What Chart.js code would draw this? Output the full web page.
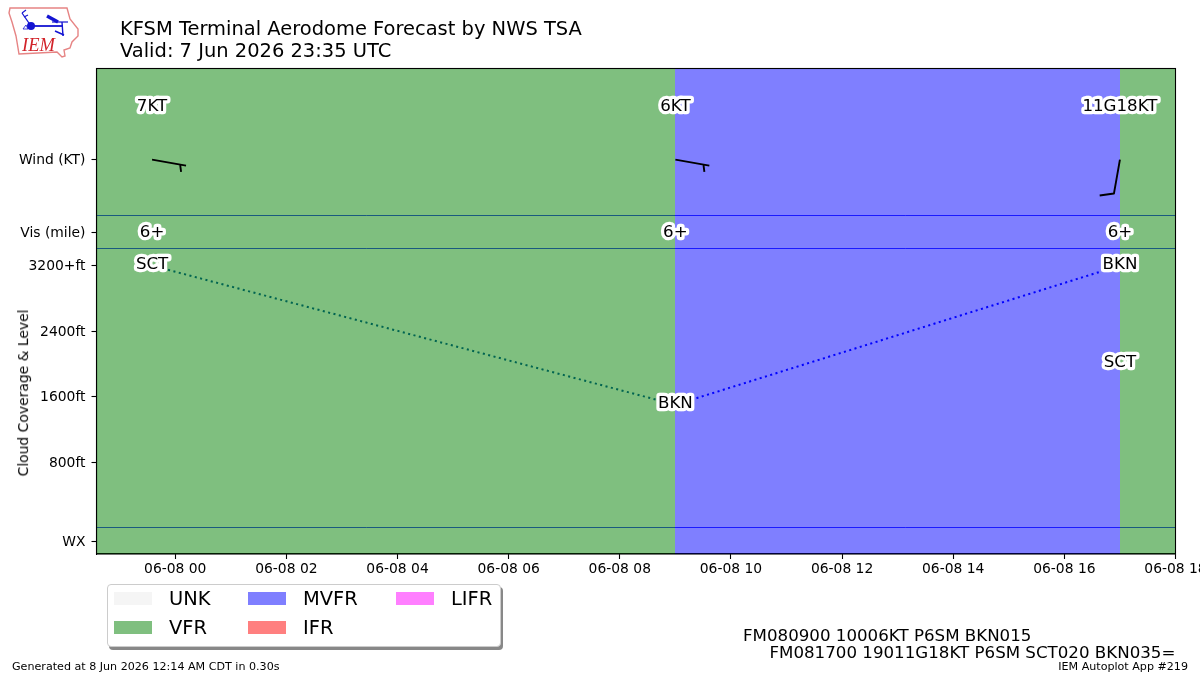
<!DOCTYPE html>
<html>
<head>
<meta charset="utf-8">
<title>KFSM TAF</title>
<script src="https://cdn.jsdelivr.net/npm/chart.js@4"></script>
<style>
    html, body { margin: 0; padding: 0; background: #fff; }
    #page { position: relative; width: 1200px; height: 675px; overflow: hidden; font-family: "DejaVu Sans", sans-serif; color: #000; }
    #myChart { position: absolute; left: 0; top: 0; }
    .txt { position: absolute; white-space: pre; line-height: 1; }
    #titulo { left: 120px; top: 18px; font-size: 19.47px; line-height: 21.5px; }
    #nivel { left: 24px; top: 393px; font-size: 13.89px; transform: translate(-50%, -50%) rotate(-90deg); }
    #taf { left: 743px; top: 627px; font-size: 16.67px; line-height: 17px; }
    #generado { left: 12px; top: 661px; font-size: 11.11px; }
    #autoplot { right: 12px; top: 661px; font-size: 11.11px; }
    #logo { position: absolute; left: 0; top: 0; }
    #leyenda { position: absolute; left: 107px; top: 584px; width: 392px; height: 61px; box-sizing: content-box; border: 1px solid #ccc; border-radius: 4px; background: #fff; box-shadow: 2px 3px 0 #888; }
    .fila { position: absolute; height: 23px; line-height: 23px; font-size: 19.44px; }
    .fila i { position: absolute; left: 0; top: 5px; width: 38px; height: 13px; }
    .fila span { position: absolute; left: 55px; }
</style>
</head>
<body>
<div id="page">
    <canvas id="myChart" width="1200" height="675"></canvas>

    <svg id="logo" width="90" height="65" viewBox="0 0 90 65">
        <path d="M10 8 L67 8 L70 19 L78 29 L78 36 L72 42 L70 48 L64 50 L65 56 L62 57 L57 52 L19 54 L16 36 L12 22 L9 13 Z" fill="#fff" stroke="#e68484" stroke-width="1.4"/>
        <g stroke="#1414d2" fill="none">
            <line x1="31" y1="26" x2="63" y2="26" stroke-width="1.8"/>
            <circle cx="31" cy="26" r="4" fill="#1414d2" stroke="none"/>
            <line x1="31" y1="26" x2="22" y2="13" stroke-width="1.3"/>
            <line x1="22" y1="13" x2="26" y2="10" stroke-width="1.1"/>
            <line x1="24" y1="17" x2="28" y2="15" stroke-width="1.1"/>
            <line x1="47" y1="16" x2="58" y2="22" stroke-width="3.4"/>
            <line x1="52" y1="22" x2="68" y2="22" stroke-width="1.2"/>
            <line x1="62" y1="22" x2="63" y2="36" stroke-width="1.4"/>
            <line x1="55" y1="31" x2="64" y2="35" stroke-width="1.4"/>
            <path d="M23 29 L26 25 L28 29 Z" stroke-width="0.8"/>
        </g>
        <text x="22" y="51" font-family="Liberation Serif" font-style="italic" font-size="18.5" fill="#d2232a">IEM</text>
    </svg>

    <div id="titulo" class="txt"></div>
    <div id="nivel" class="txt">Cloud Coverage &amp; Level</div>
    <div id="leyenda"></div>
    <div id="taf" class="txt"></div>
    <div id="generado" class="txt">Generated at 8 Jun 2026 12:14 AM CDT in 0.30s</div>
    <div id="autoplot" class="txt">IEM Autoplot App #219</div>
</div>

<script>
// hours relative to 06-08 00Z
const horaInicio = -1.417;
const horaFin = 18;
const horasTicks = [0, 2, 4, 6, 8, 10, 12, 14, 16, 18];

// forecast groups
const horasTaf = [-0.417, 9, 17];
const vientoDir = [100, 100, 190];
const vientoVel = [7, 6, 11];
const vientoRacha = [null, null, 18];
const visibilidad = ['6+', '6+', '6+'];

// cloud layers (hour, level in ft)
const nubesHora = [-0.417, 9, 17, 17];
const nubesNivel = [3200, 1500, 3200, 2000];
const nubesTexto = ['SCT', 'BKN', 'BKN', 'SCT'];
const lineaHora = [-0.417, 9, 17];
const lineaNivel = [3200, 1500, 3200];
const lineaColores = ['#0048a0', '#0000ff'];

// flight category shading
const tramosInicio = [-1.417, 9, 17];
const tramosFin = [9, 17, 18];
const tramosCategoria = ['VFR', 'MVFR', 'VFR'];

const categorias = ['UNK', 'VFR', 'MVFR', 'IFR', 'LIFR'];
const coloresCategoria = ['#f5f5f5', 'rgba(0,128,0,0.5)', 'rgba(0,0,255,0.5)', 'rgba(255,0,0,0.5)', 'rgba(255,0,255,0.5)'];

// y axis is in feet, the wind and vis rows sit above the cloud range
const yMin = -322;
const yMax = 5606;
const yTicks = [-164, 800, 1600, 2400, 3206, 3603, 4494];
const yTickTextos = ['WX', '800ft', '1600ft', '2400ft', '3200+ft', 'Vis (mile)', 'Wind (KT)'];
const separadores = [0, 3404, 3806];
const filaVientoTexto = 5136;
const filaBarba = 4494;
const filaVis = 3606;

const tituloLineas = ['KFSM Terminal Aerodome Forecast by NWS TSA', 'Valid: 7 Jun 2026 23:35 UTC'];
const tafLineas = ['FM080900 10006KT P6SM BKN015', '     FM081700 19011G18KT P6SM SCT020 BKN035='];

document.getElementById('titulo').textContent = tituloLineas.join('\n');
document.getElementById('taf').textContent = tafLineas.join('\n');

// legend, filled column by column like the plot library does
let leyenda = document.getElementById('leyenda');
const columnasX = [6, 140, 288];
categorias.forEach((nombre, i) => {
    let fila = document.createElement('div');
    fila.className = 'fila';
    fila.style.left = columnasX[Math.floor(i / 2)] + 'px';
    fila.style.top = (2 + (i % 2) * 29) + 'px';
    let caja = document.createElement('i');
    caja.style.background = coloresCategoria[i];
    let texto = document.createElement('span');
    texto.textContent = nombre;
    fila.appendChild(caja);
    fila.appendChild(texto);
    leyenda.appendChild(fila);
});

function etiqueta(ctx, texto, x, y) {
    ctx.save();
    ctx.font = '16.67px "DejaVu Sans"';
    ctx.textAlign = 'center';
    ctx.textBaseline = 'middle';
    ctx.lineJoin = 'round';
    ctx.lineWidth = 6.5;
    ctx.strokeStyle = '#fff';
    ctx.strokeText(texto, x, y);
    ctx.fillStyle = '#000';
    ctx.fillText(texto, x, y);
    ctx.restore();
}

// wind barb: shaft points to where the wind comes from
function barba(ctx, x, y, dir, vel) {
    const largo = 34.5;
    let r = dir * Math.PI / 180;
    let ux = Math.sin(r), uy = -Math.cos(r);
    let px = -uy, py = ux;
    let redondeado = Math.round(vel / 5) * 5;
    let xf = x + ux * largo, yf = y + uy * largo;
    ctx.save();
    ctx.strokeStyle = '#000';
    ctx.lineWidth = 1.9;
    ctx.lineJoin = 'round';
    ctx.beginPath();
    ctx.moveTo(x, y);
    ctx.lineTo(xf, yf);
    if (redondeado >= 10) {
        ctx.lineTo(xf + px * 13.7 + ux * 4.4, yf + py * 13.7 + uy * 4.4);
    } else if (redondeado >= 5) {
        let bx = xf - ux * 6, by = yf - uy * 6;
        ctx.moveTo(bx, by);
        ctx.lineTo(bx + px * 7 + ux * 2.2, by + py * 7 + uy * 2.2);
    }
    ctx.stroke();
    ctx.restore();
}

const anotaciones = {
    id: 'anotaciones',
    // snap shading edges and separators to whole pixels so no seam shows
    afterDatasetsUpdate(chart) {
        chart.data.datasets.forEach((ds, i) => {
            let puntos = chart.getDatasetMeta(i).data;
            if (ds.fill) {
                puntos.forEach(p => { p.x = Math.round(p.x); });
            } else if (ds.separador) {
                puntos.forEach(p => { p.y = Math.floor(p.y) + 0.5; });
            }
        });
    },
    afterDraw(chart) {
        let ctx = chart.ctx, x = chart.scales.x, y = chart.scales.y, a = chart.chartArea;

        horasTaf.forEach((h, i) => {
            barba(ctx, x.getPixelForValue(h), y.getPixelForValue(filaBarba), vientoDir[i], vientoVel[i]);
        });
        horasTaf.forEach((h, i) => {
            let txt = vientoRacha[i] ? vientoVel[i] + 'G' + vientoRacha[i] + 'KT' : vientoVel[i] + 'KT';
            etiqueta(ctx, txt, x.getPixelForValue(h), y.getPixelForValue(filaVientoTexto));
            etiqueta(ctx, visibilidad[i], x.getPixelForValue(h), y.getPixelForValue(filaVis));
        });
        nubesHora.forEach((h, i) => {
            etiqueta(ctx, nubesTexto[i], x.getPixelForValue(h), y.getPixelForValue(nubesNivel[i]) - 1);
        });

        // frame of the axes
        ctx.save();
        ctx.strokeStyle = '#000';
        ctx.lineWidth = 1.1;
        ctx.strokeRect(a.left, a.top, a.right - a.left, a.bottom - a.top);
        ctx.restore();
    }
};

let datasets = [];

// shading goes on top of the lines, the way it blends them
tramosCategoria.forEach((cat, i) => {
    datasets.push({
        data: [{ x: tramosInicio[i], y: yMax }, { x: tramosFin[i], y: yMax }],
        showLine: true,
        pointRadius: 0,
        borderWidth: 0,
        fill: 'start',
        backgroundColor: coloresCategoria[categorias.indexOf(cat)],
        order: 1
    });
});

separadores.forEach(nivel => {
    datasets.push({
        data: [{ x: horaInicio, y: nivel }, { x: horaFin, y: nivel }],
        showLine: true,
        separador: true,
        pointRadius: 0,
        borderWidth: 0.8,
        borderColor: '#0000ff',
        order: 2
    });
});

datasets.push({
    data: lineaHora.map((h, i) => ({ x: h, y: lineaNivel[i] })),
    showLine: true,
    pointRadius: 0,
    borderWidth: 2,
    borderDash: [2.08, 3.44],
    borderColor: lineaColores[0],
    segment: { borderColor: c => lineaColores[c.p0DataIndex] },
    order: 2
});

new Chart(document.getElementById('myChart'), {
    type: 'scatter',
    data: { datasets: datasets },
    options: {
        responsive: false,
        animation: false,
        layout: { padding: { left: 0, right: 24.5, top: 68.5, bottom: 91 } },
        plugins: { legend: { display: false }, tooltip: { enabled: false }, title: { display: false } },
        scales: {
            x: {
                type: 'linear',
                min: horaInicio,
                max: horaFin,
                afterBuildTicks: s => { s.ticks = horasTicks.map(v => ({ value: v })); },
                afterFit: s => { s.paddingLeft = 0; s.paddingRight = 0; s.height = 30; },
                grid: { drawOnChartArea: false, tickLength: 5, tickWidth: 1.1, tickColor: '#000' },
                border: { color: '#000', width: 1.1 },
                ticks: {
                    autoSkip: false,
                    maxRotation: 0,
                    padding: 2,
                    color: '#000',
                    font: { family: 'DejaVu Sans', size: 13.89 },
                    callback: v => '06-08 ' + String(v).padStart(2, '0')
                }
            },
            y: {
                type: 'linear',
                min: yMin,
                max: yMax,
                afterBuildTicks: s => { s.ticks = yTicks.map(v => ({ value: v })); },
                afterFit: s => { s.width = 96.5; },
                grid: { drawOnChartArea: false, tickLength: 5, tickWidth: 1.1, tickColor: '#000' },
                border: { color: '#000', width: 1.1 },
                ticks: {
                    autoSkip: false,
                    padding: 6,
                    labelOffset: 1,
                    color: '#000',
                    font: { family: 'DejaVu Sans', size: 13.89 },
                    callback: v => yTickTextos[yTicks.indexOf(v)]
                }
            }
        }
    },
    plugins: [anotaciones]
});
</script>
</body>
</html>
